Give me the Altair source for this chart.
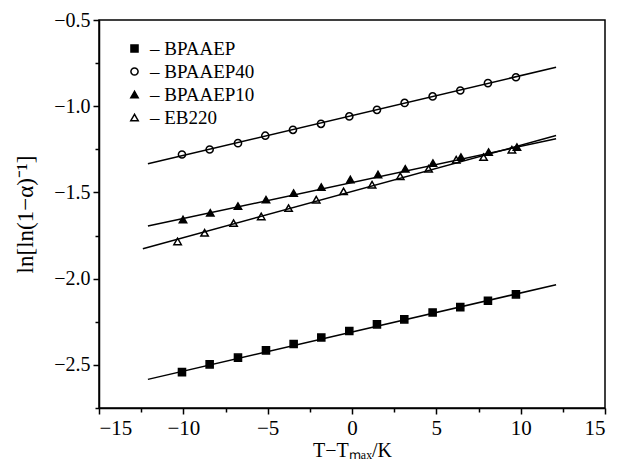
import altair as alt
import pandas as pd

series = ["BPAAEP", "BPAAEP40", "BPAAEP10", "EB220"]

x_bpaaep = [-10.08, -8.44, -6.76, -5.10, -3.46, -1.82, -0.16, 1.48, 3.10, 4.78, 6.42, 8.06, 9.72]
y_bpaaep = [-2.542, -2.497, -2.458, -2.416, -2.379, -2.341, -2.304, -2.265, -2.236, -2.196, -2.165, -2.128, -2.091]

x_bpaaep40 = [-10.08, -8.44, -6.76, -5.14, -3.50, -1.84, -0.16, 1.48, 3.12, 4.78, 6.42, 8.06, 9.72]
y_bpaaep40 = [-1.280, -1.251, -1.214, -1.171, -1.137, -1.102, -1.059, -1.021, -0.981, -0.943, -0.909, -0.866, -0.832]

x_bpaaep10 = [-10.02, -8.40, -6.76, -5.10, -3.46, -1.82, -0.10, 1.54, 3.16, 4.80, 6.46, 8.10, 9.78]
y_bpaaep10 = [-1.657, -1.618, -1.579, -1.542, -1.504, -1.469, -1.425, -1.396, -1.363, -1.330, -1.295, -1.266, -1.237]

x_eb220 = [-10.34, -8.74, -7.02, -5.38, -3.76, -2.12, -0.50, 1.19, 2.86, 4.54, 6.18, 7.80, 9.48]
y_eb220 = [-1.784, -1.734, -1.678, -1.639, -1.591, -1.542, -1.494, -1.455, -1.406, -1.363, -1.310, -1.295, -1.252]

# fitted line endpoints
fit_x0 = [-12.1, -12.1, -12.1, -12.4]
fit_y0 = [-2.584, -1.334, -1.695, -1.826]
fit_x1 = [12.1, 12.1, 12.1, 12.1]
fit_y1 = [-2.035, -0.774, -1.189, -1.170]

x_ticks = [-15, -10, -5, 0, 5, 10, 15]
x_minor = [-12.5, -7.5, -2.5, 2.5, 7.5, 12.5]
y_ticks = [-0.5, -1.0, -1.5, -2.0, -2.5]
y_minor = [-0.75, -1.25, -1.75, -2.25, -2.75]

xs = [x_bpaaep, x_bpaaep40, x_bpaaep10, x_eb220]
ys = [y_bpaaep, y_bpaaep40, y_bpaaep10, y_eb220]
pts = pd.DataFrame(
    [{"series": s, "x": x, "y": y} for s, xx, yy in zip(series, xs, ys) for x, y in zip(xx, yy)]
)
fits = pd.DataFrame(
    [{"series": s, "x": a, "y": b} for s, a, b in zip(series, fit_x0, fit_y0)]
    + [{"series": s, "x": a, "y": b} for s, a, b in zip(series, fit_x1, fit_y1)]
)

FONT = "Liberation Serif"
xscale = alt.Scale(domain=[-15, 15], nice=False, zero=False)
yscale = alt.Scale(domain=[-2.75, -0.5], nice=False, zero=False)

xaxis = alt.Axis(
    orient="bottom", values=x_ticks, format="d", title="T−Tₘₐₓ/K", grid=False,
    domainColor="black", domainWidth=1.5, tickColor="black", tickWidth=1.5, tickSize=6,
    labelFont=FONT, labelFontSize=21, labelColor="black", labelPadding=3,
    titleFont=FONT, titleFontSize=20, titleColor="black", titleFontWeight="normal", titlePadding=2,
)
yaxis = alt.Axis(
    orient="left", values=y_ticks, format=".1f", title="ln[ln(1−α)⁻¹]", grid=False,
    domainColor="black", domainWidth=1.5, tickColor="black", tickWidth=1.5, tickSize=6,
    labelFont=FONT, labelFontSize=20, labelColor="black", labelPadding=3,
    titleFont=FONT, titleFontSize=23, titleColor="black", titleFontWeight="normal", titlePadding=16,
)
xminor = alt.Axis(orient="bottom", values=x_minor, labels=False, title=None, grid=False, domain=False,
                  tickColor="black", tickWidth=1.5, tickSize=4)
yminor = alt.Axis(orient="left", values=y_minor, labels=False, title=None, grid=False, domain=False,
                  tickColor="black", tickWidth=1.5, tickSize=4)

lines = alt.Chart(fits).mark_line(color="black", strokeWidth=1.5).encode(
    x=alt.X("x:Q", scale=xscale, axis=xaxis),
    y=alt.Y("y:Q", scale=yscale, axis=yaxis),
    detail="series:N",
)

minor = alt.Chart(fits).mark_point(opacity=0).encode(
    x=alt.X("x:Q", scale=xscale, axis=xminor),
    y=alt.Y("y:Q", scale=yscale, axis=yminor),
)

def leg():
    return alt.Legend(title=None, orient="none", legendX=26, legendY=19,
                      labelFont=FONT, labelFontSize=19, labelColor="black",
                      labelExpr="'– ' + datum.label", rowPadding=3,
                      symbolStrokeWidth=1.5, labelOffset=6)

points = alt.Chart(pts).mark_point(strokeWidth=1.5, opacity=1, filled=False).encode(
    x=alt.X("x:Q", scale=xscale, axis=None),
    y=alt.Y("y:Q", scale=yscale, axis=None),
    shape=alt.Shape("series:N", scale=alt.Scale(domain=series, range=["square", "circle", "triangle-up", "triangle-up"]),
                    legend=leg()),
    fill=alt.Fill("series:N", scale=alt.Scale(domain=series, range=["black", "transparent", "black", "transparent"]),
                  legend=leg()),
    stroke=alt.Stroke("series:N", scale=alt.Scale(domain=series, range=["black", "black", "black", "black"]),
                      legend=leg()),
    size=alt.Size("series:N", scale=alt.Scale(domain=series, range=[50, 55, 80, 80]), legend=leg()),
)

chart = alt.layer(lines, minor, points).resolve_axis(x="independent", y="independent").resolve_scale(
    x="shared", y="shared"
).properties(
    width=506, height=388,
    autosize=alt.AutoSizeParams(type="none"),
    padding={"left": 91, "top": 12, "right": 4, "bottom": 56},
    background="white",
).configure_view(stroke="black", strokeWidth=1.5)

chart.save("out.html", embed_options={"renderer": "svg", "actions": False})
